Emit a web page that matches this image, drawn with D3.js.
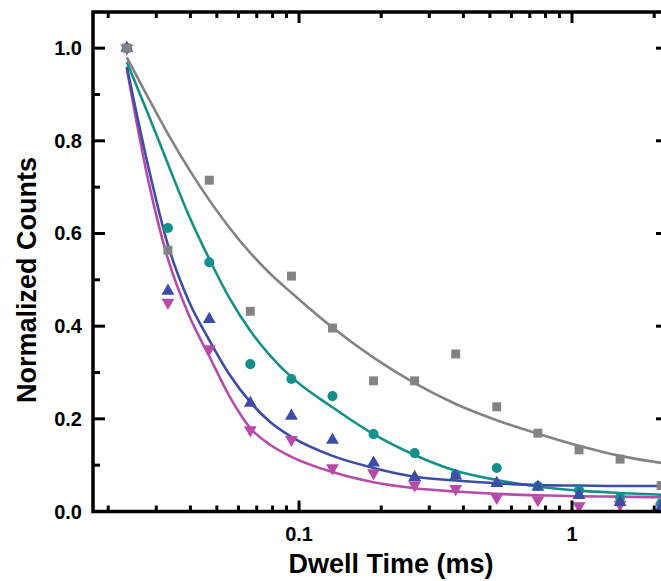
<!DOCTYPE html>
<html>
<head>
<meta charset="utf-8">
<script src="https://cdn.jsdelivr.net/npm/d3@7"></script>
<style>
  body { margin: 0; background: #fff; }
  svg { display: block; }
  .tick-label { font-family: "Liberation Sans", Arial, sans-serif; font-weight: bold; font-size: 20px; fill: #000; }
  .axis-title { font-family: "Liberation Sans", Arial, sans-serif; font-weight: bold; font-size: 27px; fill: #000; }
</style>
</head>
<body>
<div id="chart"></div>
<script>
// dwell times (ms) of the measured points
var dwellTimes = [0.0234, 0.0331, 0.0469, 0.0663, 0.0938, 0.1326, 0.1875, 0.2652, 0.375, 0.530, 0.75, 1.061, 1.5, 2.121];
// normalized counts, one array per sample
var grayCounts    = [1.0, 0.564, 0.715, 0.432, 0.508, 0.396, 0.282, 0.282, 0.340, 0.226, 0.169, 0.133, 0.113, 0.056];
var tealCounts    = [1.0, 0.612, 0.538, 0.318, 0.286, 0.249, 0.167, 0.126, 0.079, 0.094, 0.055, 0.046, 0.030, 0.018];
var blueCounts    = [1.0, 0.476, 0.415, 0.234, 0.206, 0.154, 0.105, 0.074, 0.077, 0.061, 0.053, 0.035, 0.020, 0.010];
var magentaCounts = [1.0, 0.451, 0.351, 0.176, 0.155, 0.094, 0.083, 0.057, 0.049, 0.030, 0.025, 0.012, 0.015, 0.010];

// fit curves
var fitTimes   = [0.0234, 0.0279, 0.0331, 0.0394, 0.0469, 0.0557, 0.0663, 0.0788, 0.0938, 0.1326, 0.1875, 0.2652, 0.375, 0.530, 0.75, 1.061, 1.5, 2.121, 2.25];
var grayFit    = [0.980, 0.895, 0.815, 0.740, 0.672, 0.612, 0.558, 0.512, 0.472, 0.397, 0.332, 0.277, 0.232, 0.197, 0.168, 0.142, 0.120, 0.105, 0.103];
var tealFit    = [0.970, 0.860, 0.750, 0.640, 0.545, 0.460, 0.390, 0.335, 0.290, 0.225, 0.167, 0.122, 0.088, 0.068, 0.054, 0.045, 0.040, 0.036, 0.035];
var blueFit    = [0.960, 0.750, 0.575, 0.455, 0.370, 0.295, 0.236, 0.192, 0.161, 0.120, 0.094, 0.075, 0.067, 0.061, 0.057, 0.056, 0.055, 0.055, 0.055];
var magentaFit = [0.955, 0.720, 0.545, 0.425, 0.335, 0.248, 0.180, 0.143, 0.118, 0.085, 0.063, 0.050, 0.043, 0.038, 0.035, 0.033, 0.032, 0.031, 0.031];

var yTicks = [0, 0.2, 0.4, 0.6, 0.8, 1.0];
var yMinorTicks = [0.1, 0.3, 0.5, 0.7, 0.9];
var xTicks = [0.1, 1];
var xMinorTicks = [0.02, 0.03, 0.04, 0.05, 0.06, 0.07, 0.08, 0.09, 0.2, 0.3, 0.4, 0.5, 0.6, 0.7, 0.8, 0.9, 2];

var width = 661, height = 581;
var plotLeft = 93, plotRight = 668, plotTop = 12, plotBottom = 511.5;

var svg = d3.select("#chart").append("svg")
    .attr("width", width)
    .attr("height", height);

var x = d3.scaleLog().domain([0.01759, 2.247]).range([plotLeft, plotRight]);
var y = d3.scaleLinear().domain([0, 1.078]).range([plotBottom, plotTop]);

var series = [
    {counts: magentaCounts, fit: magentaFit, color: "#b64ca7", symbol: "down"},
    {counts: tealCounts, fit: tealFit, color: "#14908a", symbol: "circle"},
    {counts: blueCounts, fit: blueFit, color: "#3d4ca6", symbol: "up"},
    {counts: grayCounts, fit: grayFit, color: "#838383", symbol: "square"}
];

var plot = svg.append("g");

// fit lines
var line = d3.line()
    .x((d) => {return x(d[0])})
    .y((d) => {return y(d[1])})
    .curve(d3.curveMonotoneX);
series.forEach((s) => {
    plot.append("path")
        .datum(d3.zip(fitTimes, s.fit))
        .attr("d", line)
        .style("fill", "none")
        .style("stroke", s.color)
        .style("stroke-width", 2.6);
});

// markers
var symbols = {
    square: d3.symbol().type(d3.symbolSquare).size(80),
    circle: d3.symbol().type(d3.symbolCircle).size(80),
    up: d3.symbol().type(d3.symbolTriangle).size(72),
    down: d3.symbol().type(d3.symbolTriangle).size(72)
};
series.forEach((s) => {
    plot.selectAll(null)
        .data(d3.zip(dwellTimes, s.counts)).enter()
        .append("path")
        .attr("d", symbols[s.symbol]())
        .attr("transform", (d) => {
            return "translate(" + x(d[0]) + "," + y(d[1]) + ")" + (s.symbol == "down" ? " rotate(180)" : "");
        })
        .style("fill", s.color);
});

// frame
svg.append("rect")
    .attr("x", plotLeft)
    .attr("y", plotTop)
    .attr("width", plotRight - plotLeft)
    .attr("height", plotBottom - plotTop)
    .style("fill", "none")
    .style("stroke", "#000")
    .style("stroke-width", 3.5);

// ticks, all pointing inward
var major = 10, minor = 5;
function xTickLines(vals, len) {
    vals.forEach((v) => {
        svg.append("line").attr("x1", x(v)).attr("x2", x(v))
            .attr("y1", plotBottom).attr("y2", plotBottom - len)
            .style("stroke", "#000").style("stroke-width", 3);
        svg.append("line").attr("x1", x(v)).attr("x2", x(v))
            .attr("y1", plotTop).attr("y2", plotTop + len)
            .style("stroke", "#000").style("stroke-width", 3);
    });
}
function yTickLines(vals, len) {
    vals.forEach((v) => {
        svg.append("line").attr("x1", plotLeft).attr("x2", plotLeft + len)
            .attr("y1", y(v)).attr("y2", y(v))
            .style("stroke", "#000").style("stroke-width", 3);
        svg.append("line").attr("x1", plotRight).attr("x2", plotRight - len)
            .attr("y1", y(v)).attr("y2", y(v))
            .style("stroke", "#000").style("stroke-width", 3);
    });
}
xTickLines(xTicks, major + 1);
xTickLines(xMinorTicks, minor + 1);
yTickLines(yTicks, major + 2);
yTickLines(yMinorTicks, minor + 2);

// tick labels
svg.selectAll(".ylab")
    .data(yTicks).enter()
    .append("text")
    .attr("class", "tick-label")
    .attr("x", 82)
    .attr("y", (d) => {return y(d) + 7})
    .attr("text-anchor", "end")
    .text(d3.format(".1f"));
svg.selectAll(".xlab")
    .data(xTicks).enter()
    .append("text")
    .attr("class", "tick-label")
    .attr("x", (d) => {return x(d)})
    .attr("y", 541)
    .attr("text-anchor", "middle")
    .text((d) => {return d});

// axis titles
svg.append("text")
    .attr("class", "axis-title")
    .attr("x", 391)
    .attr("y", 573)
    .attr("text-anchor", "middle")
    .text("Dwell Time (ms)");
svg.append("text")
    .attr("class", "axis-title")
    .attr("transform", "translate(36,280) rotate(-90)")
    .attr("text-anchor", "middle")
    .text("Normalized Counts");
</script>
</body>
</html>
